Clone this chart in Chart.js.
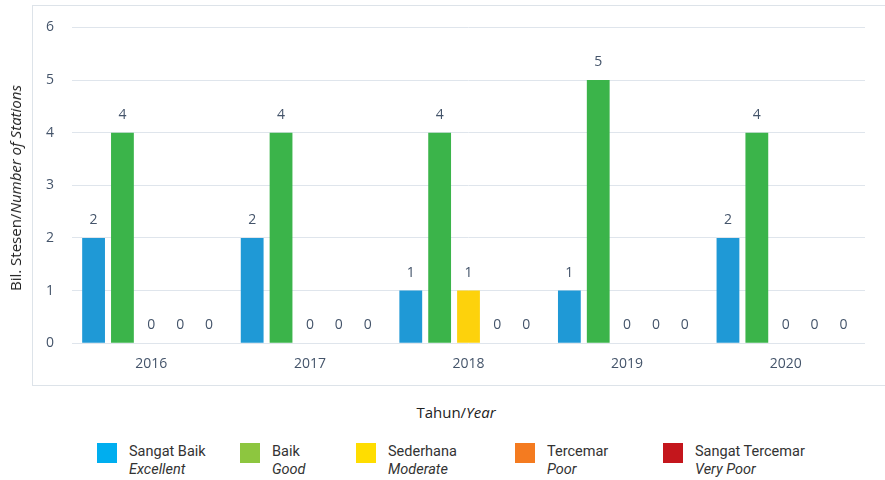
<!DOCTYPE html>
<html>
<head>
<meta charset="utf-8">
<script src="https://cdn.jsdelivr.net/npm/chart.js@4/dist/chart.umd.min.js"></script>
<style>
  body { margin: 0; background: #fff; font-family: "Open Sans", sans-serif; }
  #wrap { position: relative; width: 885px; height: 480px; overflow: hidden; }
  #box { position: absolute; left: 32px; top: 5px; width: 860px; height: 379px; border: 1px solid #dde3e9; }
  #chartHolder { position: absolute; left: 20px; top: 1px; width: 865px; height: 383px; }
  #ytitle { position: absolute; left: 15px; top: 188px; transform: translate(-50%, -50%) rotate(-90deg); white-space: nowrap; font-size: 15px; color: #222; }
  #xtitle { position: absolute; left: 456px; top: 412px; transform: translate(-50%, -50%); white-space: nowrap; font-size: 15px; color: #222; }
  .leg { position: absolute; top: 443px; font-family: Roboto, sans-serif; font-size: 14.5px; color: #333; line-height: 18px; }
  .leg .sw { position: absolute; left: 0; top: 0; width: 20px; height: 20px; }
  .leg .txt { position: absolute; left: 32px; top: 0; white-space: nowrap; }
</style>
</head>
<body>
<div id="wrap">
  <div id="box"></div>
  <div id="chartHolder"><canvas id="chart"></canvas></div>
  <div id="ytitle">Bil. Stesen/<i>Number of Stations</i></div>
  <div id="xtitle">Tahun/<i>Year</i></div>
  <div id="legend"></div>
</div>
<script>
const years = ['2016', '2017', '2018', '2019', '2020'];
const seriesNames = ['Sangat Baik', 'Baik', 'Sederhana', 'Tercemar', 'Sangat Tercemar'];
const seriesNamesEn = ['Excellent', 'Good', 'Moderate', 'Poor', 'Very Poor'];
const sangatBaik = [2, 2, 1, 1, 2];
const baik = [4, 4, 4, 5, 4];
const sederhana = [0, 0, 1, 0, 0];
const tercemar = [0, 0, 0, 0, 0];
const sangatTercemar = [0, 0, 0, 0, 0];
const yTicks = [0, 1, 2, 3, 4, 5, 6];

const barColors = ['#1f99d6', '#3bb44a', '#fdd20c', '#f47b20', '#c4161c'];
const legendColors = ['#00aeef', '#8dc63f', '#ffdd00', '#f47b20', '#c4161c'];
const legendLeft = [97, 240, 356, 515, 663];

const values = [sangatBaik, baik, sederhana, tercemar, sangatTercemar];

// value labels above each bar
const barLabels = {
  id: 'barLabels',
  afterDatasetsDraw(chart) {
    const ctx = chart.ctx;
    ctx.save();
    ctx.font = '14px "Open Sans"';
    ctx.fillStyle = '#44546a';
    ctx.textAlign = 'center';
    ctx.textBaseline = 'middle';
    chart.data.datasets.forEach((ds, i) => {
      chart.getDatasetMeta(i).data.forEach((bar, j) => {
        ctx.fillText(ds.data[j], bar.x, bar.y - 18);
      });
    });
    ctx.restore();
  }
};

function buildLegend() {
  const el = document.getElementById('legend');
  seriesNames.forEach((name, i) => {
    const item = document.createElement('div');
    item.className = 'leg';
    item.style.left = legendLeft[i] + 'px';
    item.innerHTML = `<div class="sw" style="background:${legendColors[i]}"></div>` +
      `<div class="txt">${name}<br><i>${seriesNamesEn[i]}</i></div>`;
    el.appendChild(item);
  });
}

function renderChart() {
  const ctx = document.getElementById('chart');
  new Chart(ctx, {
    type: 'bar',
    data: {
      labels: years,
      datasets: seriesNames.map((name, i) => ({
        label: name,
        data: values[i],
        backgroundColor: barColors[i],
        barPercentage: 0.79,
        categoryPercentage: 0.91
      }))
    },
    options: {
      responsive: true,
      maintainAspectRatio: false,
      animation: false,
      layout: { padding: { left: 8, right: 20, top: 4, bottom: 8 } },
      plugins: { legend: { display: false }, tooltip: { enabled: false } },
      scales: {
        x: {
          grid: { display: false },
          border: { display: false },
          ticks: { color: '#44546a', font: { family: 'Open Sans', size: 14 }, padding: 4 }
        },
        y: {
          min: 0,
          max: 6,
          afterBuildTicks(axis) { axis.ticks = yTicks.map(v => ({ value: v })); },
          grid: { color: '#dfe5ec', drawTicks: false },
          border: { display: false },
          ticks: { color: '#44546a', font: { family: 'Open Sans', size: 14 }, padding: 18 }
        }
      }
    },
    plugins: [barLabels]
  });
}

buildLegend();
renderChart();
</script>
</body>
</html>
